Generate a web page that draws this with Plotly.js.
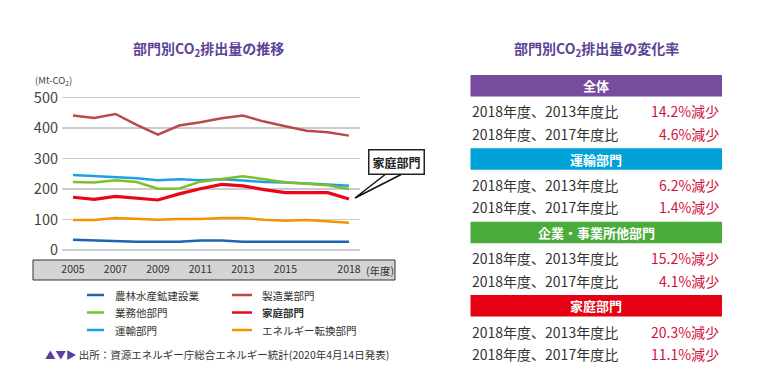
<!DOCTYPE html>
<html><head><meta charset="utf-8">
<script src="https://cdn.plot.ly/plotly-3.0.1.min.js"></script>
<style>html,body{margin:0;padding:0;background:#fff}#c{width:764px;height:373px}</style>
</head><body><div id="c"></div>
<script>
// ---- data ----
const years = [2005,2006,2007,2008,2009,2010,2011,2012,2013,2014,2015,2016,2017,2018];
const agri      = [34,31,30,27,27,27,31,31,27,27,27,27,27,27];
const manuf     = [441,433,446,410,378,408,419,432,441,421,406,391,386,375];
const business  = [223,221,229,223,201,202,224,232,242,232,222,217,212,200];
const transport = [246,243,239,235,229,232,229,232,228,223,221,219,215,211];
const energy    = [98,98,105,103,99,102,102,105,105,99,96,98,93,89];
const household = [173,166,176,171,164,184,201,215,210,198,188,188,188,167];
const seriesNames = ['農林水産鉱建設業','製造業部門','業務他部門','家庭部門','運輸部門','エネルギー転換部門'];
const xTickVals = [2005,2007,2009,2011,2013,2015,2018];
const xTickText = ['2005','2007','2009','2011','2013','2015','2018'];
const yTickVals = [0,100,200,300,400,500];
const leftTitle = '部門別CO<sub>2</sub>排出量の推移';
const rightTitle = '部門別CO<sub>2</sub>排出量の変化率';
const unitLabel = '(Mt-CO<sub>2</sub>)';
const sourceText = '出所：資源エネルギー庁総合エネルギー統計(2020年4月14日発表)';
const callout = '家庭部門';
// right-panel table
const sections = ['全体','運輸部門','企業・事業所他部門','家庭部門'];
const rowLabels = ['2018年度、2013年度比','2018年度、2017年度比'];
const changeVs2013 = ['14.2%減少','6.2%減少','15.2%減少','20.3%減少'];
const changeVs2017 = ['4.6%減少','1.4%減少','4.1%減少','11.1%減少'];

// ---- styling ----
const W=764,H=373;
const px=x=>x/W, py=y=>1-y/H;
const FONT='"Noto Sans CJK JP", "Noto Sans", sans-serif';
const colors = {agri:'#1f63b3',manuf:'#b94a45',business:'#7cbf2a',household:'#e8071a',transport:'#1ba1e2',energy:'#f29600'};
const series = [
  {y:agri,c:colors.agri,n:seriesNames[0],w:2.5},
  {y:manuf,c:colors.manuf,n:seriesNames[1],w:2.5},
  {y:energy,c:colors.energy,n:seriesNames[5],w:2.5},
  {y:transport,c:colors.transport,n:seriesNames[4],w:2.5},
  {y:business,c:colors.business,n:seriesNames[2],w:2.5},
  {y:household,c:colors.household,n:seriesNames[3],w:3.2},
];
const traces = series.map(s=>({x:years,y:s.y,type:'scatter',mode:'lines',name:s.n,
  line:{color:s.c,width:s.w},hoverinfo:'skip'}));

// axis geometry (pixels)
const x2005=73,x2018=349,xl=62,xr=360;
const pxPerYr=(x2018-x2005)/13;
const y0px=250,y500px=97.5;
const pxPerU=(y0px-y500px)/500;
const yRange=[-6,506];
const yDomB=py(y0px+6*pxPerU), yDomT=py(y500px-6*pxPerU);

const shapes=[], ann=[];
// x-axis gray band
shapes.push({type:'rect',xref:'paper',yref:'paper',x0:px(33),x1:px(395),y0:py(280),y1:py(260),
  fillcolor:'#d4d4d4',line:{color:'#333',width:1},layer:'below'});
ann.push({xref:'paper',yref:'paper',x:px(364),y:py(270),xanchor:'left',yanchor:'middle',showarrow:false,
  text:'(年度)',font:{family:FONT,size:10.5,color:'#333'}});
// titles
ann.push({xref:'paper',yref:'paper',x:px(208),y:py(49),xanchor:'center',yanchor:'middle',showarrow:false,
  text:'<b>'+leftTitle+'</b>',font:{family:FONT,size:14,color:'#5b4397'}});
ann.push({xref:'paper',yref:'paper',x:px(596),y:py(49),xanchor:'center',yanchor:'middle',showarrow:false,
  text:'<b>'+rightTitle+'</b>',font:{family:FONT,size:14,color:'#5b4397'}});
ann.push({xref:'paper',yref:'paper',x:px(33),y:py(80),xanchor:'left',yanchor:'middle',showarrow:false,
  text:unitLabel,font:{family:FONT,size:9.5,color:'#444'}});
// callout
ann.push({xref:'paper',yref:'paper',x:px(396),y:py(162),xanchor:'center',yanchor:'middle',showarrow:false,
  text:'<b>'+callout+'</b>',font:{family:FONT,size:12,color:'#222'},bgcolor:'#fff',bordercolor:'#222',borderwidth:1.5,borderpad:3});
shapes.push({type:'path',xref:'paper',yref:'paper',
  path:`M ${px(389)} ${py(171.5)} L ${px(355)} ${py(198)} L ${px(407)} ${py(171.5)}`,line:{color:'#111',width:1.5}});

// legend (manual, built from series names/colours)
const legCols=[{lx0:87,lx1:104,tx:113,items:[0,2,4]},{lx0:232,lx1:252,tx:260,items:[1,3,5]}];
const legRows=[295,312.5,330];
const colorByName={};
series.forEach(s=>colorByName[s.n]=s.c);
legCols.forEach(col=>col.items.forEach((idx,r)=>{
  const nm=seriesNames[idx];
  shapes.push({type:'line',xref:'paper',yref:'paper',x0:px(col.lx0),x1:px(col.lx1),y0:py(legRows[r]),y1:py(legRows[r]),
    line:{color:colorByName[nm],width:2.5}});
  ann.push({xref:'paper',yref:'paper',x:px(col.tx),y:py(legRows[r]),xanchor:'left',yanchor:'middle',showarrow:false,
    text:idx===3?'<b>'+nm+'</b>':nm,font:{family:FONT,size:10.5,color:'#333'}});
}));
// source
ann.push({xref:'paper',yref:'paper',x:px(43),y:py(354),xanchor:'left',yanchor:'middle',showarrow:false,
  text:'<span style="color:#5a3f9c">▲▼▶</span> '+sourceText,font:{family:FONT,size:10.5,color:'#333'}});

// right panel
const secColors=['#774b9d','#00a2d9','#4aad3b','#e60014'];
const secTop=[75,148.3,221.7,295];
sections.forEach((s,i)=>{
  const t=secTop[i];
  shapes.push({type:'rect',xref:'paper',yref:'paper',x0:px(470.5),x1:px(722),y0:py(t+21.5),y1:py(t),
    fillcolor:secColors[i],line:{width:0}});
  ann.push({xref:'paper',yref:'paper',x:px(596),y:py(t+10.8),xanchor:'center',yanchor:'middle',showarrow:false,
    text:'<b>'+s+'</b>',font:{family:FONT,size:13,color:'#fff'}});
  const vals=[changeVs2013[i],changeVs2017[i]];
  [t+36.5,t+59].forEach((yy,k)=>{
    ann.push({xref:'paper',yref:'paper',x:px(470),y:py(yy),xanchor:'left',yanchor:'middle',showarrow:false,
      text:rowLabels[k],font:{family:FONT,size:14,color:'#333'}});
    ann.push({xref:'paper',yref:'paper',x:px(721),y:py(yy),xanchor:'right',yanchor:'middle',showarrow:false,
      text:vals[k],font:{family:FONT,size:14,color:'#d0123b'}});
  });
});

const layout={
  width:W,height:H,margin:{l:0,r:0,t:0,b:0},paper_bgcolor:'#fff',plot_bgcolor:'rgba(0,0,0,0)',
  showlegend:false,font:{family:FONT},
  xaxis:{domain:[px(xl),px(xr)],range:[2005-(x2005-xl)/pxPerYr,2018+(xr-x2018)/pxPerYr],
    tickvals:xTickVals,ticktext:xTickText,showgrid:false,zeroline:false,showline:false,ticks:'',
    ticklabelstandoff:10,tickfont:{family:FONT,size:10.5,color:'#333'},fixedrange:true},
  yaxis:{domain:[yDomB,yDomT],range:yRange,tickvals:yTickVals,showgrid:true,gridcolor:'#cccccc',gridwidth:1.5,
    zeroline:false,showline:false,ticks:'',ticklabelstandoff:3,tickfont:{family:FONT,size:14.5,color:'#444'},fixedrange:true},
  shapes:shapes,annotations:ann
};
Plotly.newPlot('c',traces,layout,{displayModeBar:false,staticPlot:true});
</script></body></html>
